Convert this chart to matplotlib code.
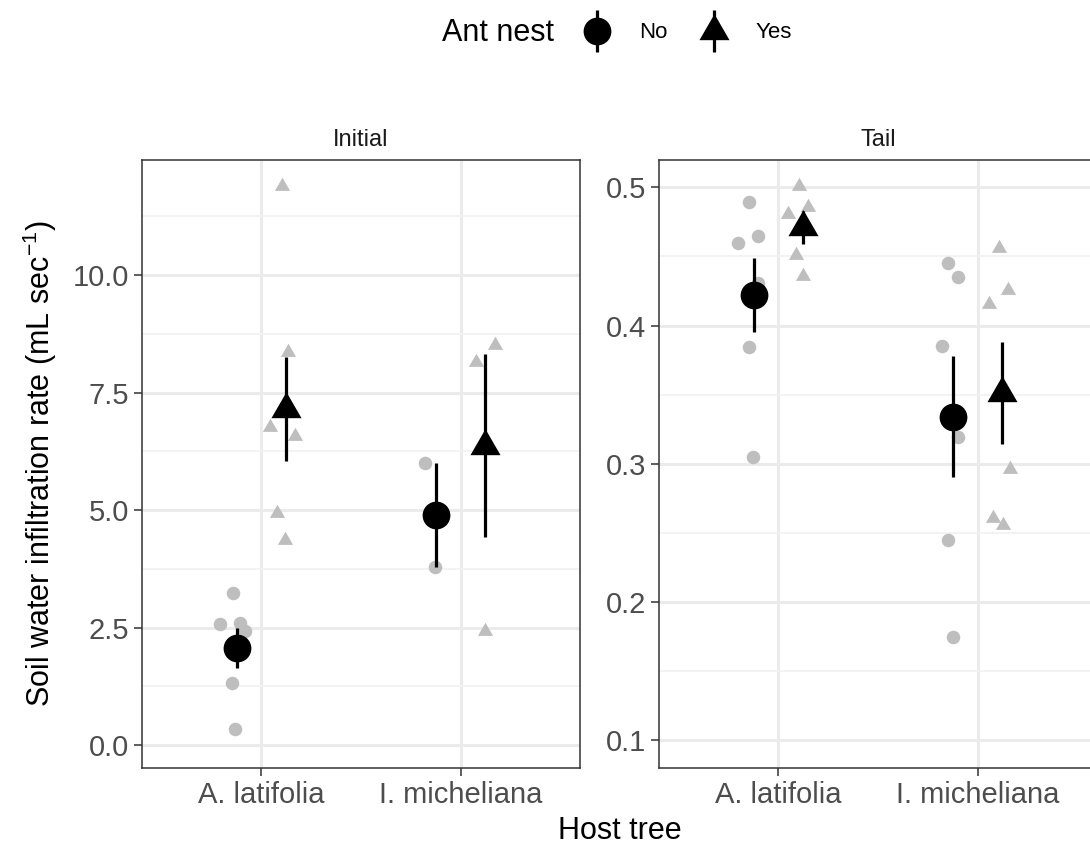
import numpy as np
import matplotlib as mpl
mpl.use('agg')
import matplotlib.pyplot as plt
from matplotlib.legend_handler import HandlerErrorbar

plt.rcParams['font.family'] = ['Liberation Sans', 'DejaVu Sans']
plt.rcParams['mathtext.fontset'] = 'custom'
plt.rcParams['mathtext.rm'] = 'Liberation Sans'
plt.rcParams['mathtext.default'] = 'regular'

hosts = ['A. latifolia', 'I. micheliana']
nest_levels = ['No', 'Yes']

# raw measurements, one list per host x nest; offsets are the jitter along x
init_vals = {
    ('A. latifolia', 'No'):  [3.24, 2.57, 2.59, 2.43, 1.31, 0.33],
    ('A. latifolia', 'Yes'): [11.89, 8.37, 6.77, 6.57, 4.94, 4.36],
    ('I. micheliana', 'No'):  [6.01, 3.79],
    ('I. micheliana', 'Yes'): [8.52, 8.16, 2.43],
}
init_jit = {
    ('A. latifolia', 'No'):  [-0.141, -0.208, -0.107, -0.082, -0.149, -0.132],
    ('A. latifolia', 'Yes'): [0.102, 0.131, 0.044, 0.169, 0.077, 0.119],
    ('I. micheliana', 'No'):  [-0.177, -0.127],
    ('I. micheliana', 'Yes'): [0.174, 0.077, 0.124],
}
tail_vals = {
    ('A. latifolia', 'No'):  [0.4896, 0.4595, 0.4648, 0.3847, 0.3046, 0.4305],
    ('A. latifolia', 'Yes'): [0.501, 0.4807, 0.486, 0.451, 0.4358],
    ('I. micheliana', 'No'):  [0.445, 0.4349, 0.3852, 0.3196, 0.2448, 0.1748],
    ('I. micheliana', 'Yes'): [0.4559, 0.4257, 0.4156, 0.296, 0.2609, 0.2556],
}
tail_jit = {
    ('A. latifolia', 'No'):  [-0.146, -0.205, -0.104, -0.149, -0.129, -0.104],
    ('A. latifolia', 'Yes'): [0.102, 0.047, 0.147, 0.089, 0.122],
    ('I. micheliana', 'No'):  [-0.149, -0.099, -0.177, -0.099, -0.149, -0.124],
    ('I. micheliana', 'Yes'): [0.107, 0.152, 0.060, 0.164, 0.077, 0.127],
}

# group means and standard errors, ordered [A. latifolia, I. micheliana]
init_mean = {'No': [2.07, 4.90], 'Yes': [7.15, 6.37]}
init_se   = {'No': [0.43, 1.11], 'Yes': [1.11, 1.95]}
tail_mean = {'No': [0.422, 0.334], 'Yes': [0.471, 0.351]}
tail_se   = {'No': [0.027, 0.044], 'Yes': [0.012, 0.037]}

tri = [(0, 1), (-0.866, -0.5), (0.866, -0.5)]
shapes = {'No': 'o', 'Yes': tri}
pt_size = {'No': 95, 'Yes': 160}
mean_ms = {'No': 20, 'Yes': 25}
dodge = {'No': -0.125, 'Yes': 0.125}

fig = plt.figure(figsize=(10.9, 8.46), dpi=100)
W, H = 1090., 846.
ax1 = fig.add_axes([142/W, 1-768/H, 438/W, 608/H])
ax2 = fig.add_axes([659/W, 1-768/H, 438/W, 608/H])

handles = []
for ax, vals, jit, mean, se, title in [
        (ax1, init_vals, init_jit, init_mean, init_se, 'Initial'),
        (ax2, tail_vals, tail_jit, tail_mean, tail_se, 'Tail')]:
    for i, h in enumerate(hosts):
        for n in nest_levels:
            xs = i + 1 + np.array(jit[(h, n)])
            ax.scatter(xs, vals[(h, n)], s=pt_size[n], marker=shapes[n],
                       color='#bebebe', linewidths=0, zorder=2)
    for n in nest_levels:
        xm = np.arange(1, 3) + dodge[n]
        ax.errorbar(xm, mean[n], yerr=se[n], fmt='none', ecolor='black',
                    elinewidth=2.3, capsize=0, zorder=3)
        ax.plot(xm, mean[n], ls='none', marker=shapes[n], ms=mean_ms[n],
                color='black', mew=0, zorder=4)
        if ax is ax1:
            h_eb = ax.errorbar([], [], yerr=[], marker=shapes[n], ms=mean_ms[n],
                               ls='none', color='black', mew=0,
                               elinewidth=2.3, capsize=0)
            handles.append(h_eb)

    ax.set_xlim(0.4, 2.6)
    ax.set_xticks([1, 2])
    ax.set_xticklabels(hosts)
    ax.set_title(title, fontsize=17, color='#1a1a1a', pad=10)
    ax.grid(True, which='major', color='#ebebeb', lw=2.2, zorder=0)
    ax.grid(True, which='minor', axis='y', color='#f2f2f2', lw=1.3, zorder=0)
    ax.set_axisbelow(True)
    ax.tick_params(which='major', length=6, width=1.1, color='#333333',
                   labelsize=21, labelcolor='#4d4d4d', pad=3)
    ax.tick_params(which='minor', length=0)
    for sp in ax.spines.values():
        sp.set_color('#333333')
        sp.set_linewidth(1.1)

ax1.set_ylim(-0.49, 12.45)
ax1.set_yticks([0, 2.5, 5, 7.5, 10])
ax1.set_yticklabels(['0.0', '2.5', '5.0', '7.5', '10.0'])
ax1.set_yticks([1.25, 3.75, 6.25, 8.75, 11.25], minor=True)

ax2.set_ylim(0.0797, 0.5198)
ax2.set_yticks([0.1, 0.2, 0.3, 0.4, 0.5])
ax2.set_yticklabels(['0.1', '0.2', '0.3', '0.4', '0.5'])
ax2.set_yticks([0.15, 0.25, 0.35, 0.45], minor=True)

ax1.set_ylabel('Soil water infiltration rate (mL sec$^{-1}$)', fontsize=22, labelpad=10)
fig.text(619.5/W, 1-831/H, 'Host tree', fontsize=22, ha='center', va='center')

fig.text(442/W, 1-33/H, 'Ant nest', fontsize=22, ha='left', va='center')
fig.legend(handles, nest_levels, loc='center left', bbox_to_anchor=(583/W, 1-33/H),
           ncol=2, frameon=False, fontsize=16, handlelength=1.3, handletextpad=1.24,
           columnspacing=1.42, borderpad=0, borderaxespad=0,
           handler_map={type(handles[0]): HandlerErrorbar(xerr_size=0.5, yerr_size=0.95)})

fig.savefig('out.png', dpi=100)
